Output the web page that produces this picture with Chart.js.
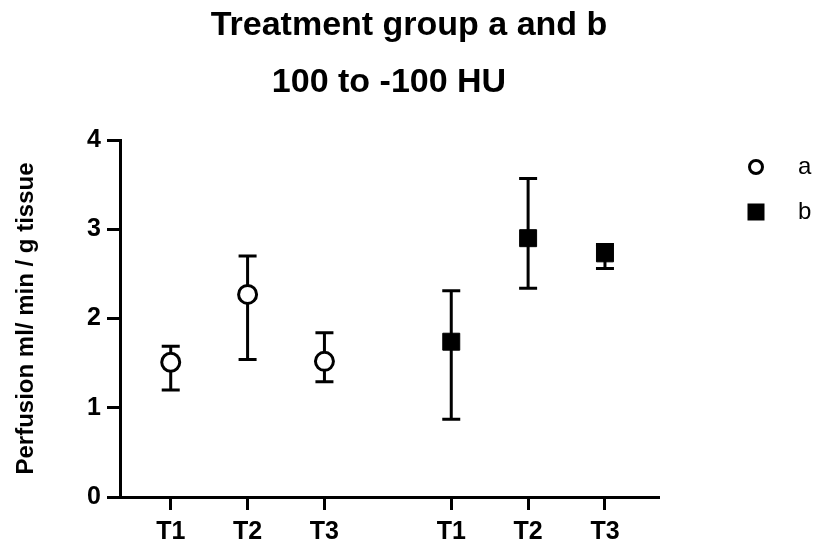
<!DOCTYPE html>
<html>
<head>
<meta charset="utf-8">
<title>Treatment group a and b</title>
<script src="https://cdn.jsdelivr.net/npm/chart.js@4.4.1/dist/chart.umd.min.js"></script>
<style>
  html, body { margin: 0; padding: 0; background: #fff; }
  #wrap { width: 818px; height: 545px; position: relative; }
</style>
</head>
<body>
<div id="wrap"><canvas id="perfusion-chart"></canvas></div>
<script>
// Perfusion (ml/min/g tissue), mean with error range, per time point
const timepoints = ['T1', 'T2', 'T3'];
const groupNames = ['a', 'b'];

const meanA = [1.51, 2.27, 1.52];
const lowA = [1.20, 1.54, 1.29];
const highA = [1.69, 2.70, 1.84];

const meanB = [1.74, 2.90, 2.73];
const lowB = [0.87, 2.34, 2.56];
const highB = [2.31, 3.57, 2.83];

const yTicks = [0, 1, 2, 3, 4];
const titleLines = ['Treatment group a and b', '100 to -100 HU'];
const yTitle = 'Perfusion ml/ min / g tissue';

// where each group starts on the x axis, and the gap between groups
const groupStart = [0.66, 4.31];
const xMax = 7;

const FONT = 'Liberation Sans, Arial, Helvetica, sans-serif';

function toPoints(means, g) {
  return means.map((v, i) => ({ x: groupStart[g] + i, y: v }));
}

const xTickValues = [];
const xTickLabels = [];
groupStart.forEach((start) => {
  timepoints.forEach((t, i) => {
    xTickValues.push(start + i);
    xTickLabels.push(t);
  });
});

const ranges = [
  { low: lowA, high: highA },
  { low: lowB, high: highB }
];

// vertical error bars with caps, painted under the markers
const errorBars = {
  id: 'errorBars',
  beforeDatasetsDraw(chart) {
    const ctx = chart.ctx;
    const yScale = chart.scales.y;
    ctx.save();
    ctx.strokeStyle = '#000';
    ctx.lineWidth = 3;
    ctx.lineCap = 'butt';
    chart.data.datasets.forEach((ds, d) => {
      const meta = chart.getDatasetMeta(d);
      meta.data.forEach((pt, i) => {
        const yLo = yScale.getPixelForValue(ranges[d].low[i]);
        const yHi = yScale.getPixelForValue(ranges[d].high[i]);
        const half = 9;
        ctx.beginPath();
        ctx.moveTo(pt.x, yLo);
        ctx.lineTo(pt.x, yHi);
        ctx.moveTo(pt.x - half, yLo);
        ctx.lineTo(pt.x + half, yLo);
        ctx.moveTo(pt.x - half, yHi);
        ctx.lineTo(pt.x + half, yHi);
        ctx.stroke();
      });
    });
    ctx.restore();
  }
};

// two title lines and the legend at the right
const decorations = {
  id: 'decorations',
  afterDraw(chart) {
    const ctx = chart.ctx;
    const area = chart.chartArea;
    ctx.save();
    ctx.fillStyle = '#000';
    ctx.textAlign = 'center';
    ctx.textBaseline = 'alphabetic';
    ctx.font = 'bold 34px ' + FONT;
    ctx.fillText(titleLines[0], chart.width / 2, 35);
    ctx.fillText(titleLines[1], (area.left + area.right) / 2, 92);

    const mx = area.right + 98;
    const tx = area.right + 140;
    const rows = [area.top + 27, area.top + 72];

    ctx.lineWidth = 3;
    ctx.strokeStyle = '#000';
    ctx.fillStyle = '#fff';
    ctx.beginPath();
    ctx.arc(mx, rows[0], 6.5, 0, Math.PI * 2);
    ctx.fill();
    ctx.stroke();

    ctx.fillStyle = '#000';
    ctx.fillRect(mx - 8.5, rows[1] - 8.5, 17, 17);

    ctx.font = '24px ' + FONT;
    ctx.textAlign = 'left';
    ctx.textBaseline = 'middle';
    ctx.fillText(groupNames[0], tx, rows[0]);
    ctx.fillText(groupNames[1], tx, rows[1]);
    ctx.restore();
  }
};

const ctx = document.getElementById('perfusion-chart').getContext('2d');

new Chart(ctx, {
  type: 'scatter',
  data: {
    datasets: [{
      label: groupNames[0],
      data: toPoints(meanA, 0),
      pointStyle: 'circle',
      pointRadius: 9,
      pointHoverRadius: 9,
      borderWidth: 3,
      borderColor: '#000',
      backgroundColor: '#fff'
    }, {
      label: groupNames[1],
      data: toPoints(meanB, 1),
      pointStyle: 'rect',
      pointRadius: 12,
      pointHoverRadius: 12,
      borderWidth: 1,
      borderColor: '#000',
      backgroundColor: '#000'
    }]
  },
  options: {
    responsive: true,
    maintainAspectRatio: false,
    animation: false,
    layout: {
      padding: { top: 140, right: 160, left: 0, bottom: 0 }
    },
    plugins: {
      legend: { display: false },
      title: { display: false },
      tooltip: { enabled: false }
    },
    scales: {
      x: {
        type: 'linear',
        position: 'bottom',
        min: 0,
        max: xMax,
        afterBuildTicks(scale) {
          scale.ticks = xTickValues.map(v => ({ value: v }));
        },
        afterFit(scale) {
          scale.height = 48;
        },
        ticks: {
          autoSkip: false,
          maxRotation: 0,
          padding: 7,
          color: '#000',
          font: { family: FONT, size: 25, weight: 'bold' },
          callback: (value, index) => xTickLabels[index]
        },
        grid: {
          drawOnChartArea: false,
          drawTicks: true,
          tickLength: 13,
          lineWidth: 3,
          color: '#000'
        },
        border: { display: true, width: 3, color: '#000' }
      },
      y: {
        min: 0,
        max: 4,
        afterBuildTicks(scale) {
          scale.ticks = yTicks.map(v => ({ value: v }));
        },
        afterFit(scale) {
          scale.width = 120;
        },
        ticks: {
          padding: 6,
          color: '#000',
          font: { family: FONT, size: 25, weight: 'bold' }
        },
        grid: {
          drawOnChartArea: false,
          drawTicks: true,
          tickLength: 13,
          lineWidth: 3,
          color: '#000'
        },
        border: { display: true, width: 3, color: '#000' },
        title: {
          display: true,
          text: yTitle,
          color: '#000',
          padding: { top: 12, bottom: 0 },
          font: { family: FONT, size: 24, weight: 'bold' }
        }
      }
    }
  },
  plugins: [errorBars, decorations]
});
</script>
</body>
</html>
